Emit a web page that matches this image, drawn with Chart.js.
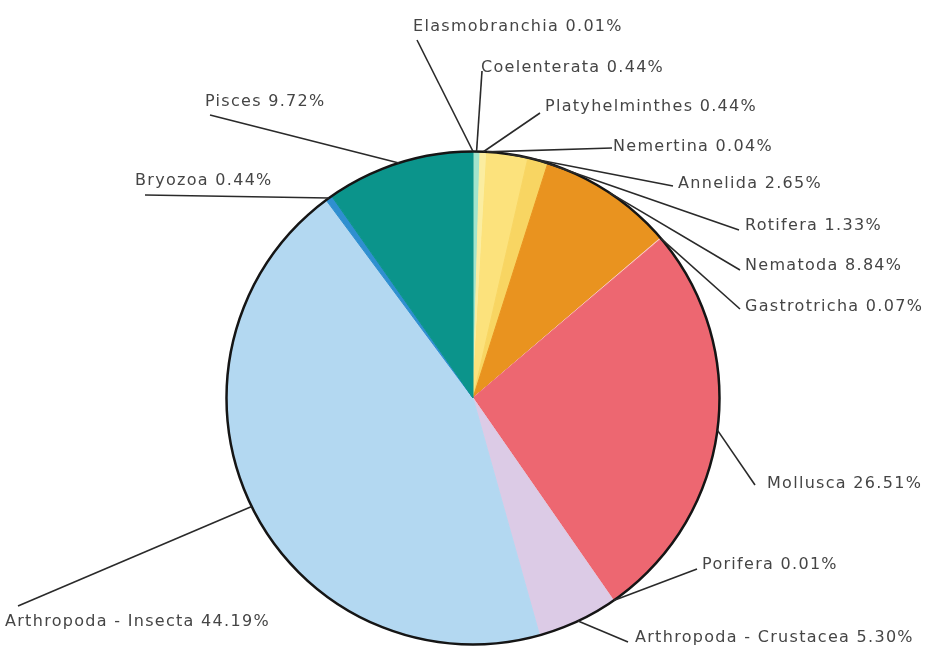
<!DOCTYPE html>
<html lang="en">
<head>
  <meta charset="UTF-8" />
  <title>Species share by group</title>
  <script src="https://cdn.jsdelivr.net/npm/chart.js"></script>
  <style>
    html, body { margin: 0; padding: 0; background: #fff; }
    canvas { display: block; }
  </style>
</head>
<body>
  <canvas id="pieChart" width="944" height="655"></canvas>

  <script>
    // groups, clockwise from 12 o'clock
    const groups = [
      "Elasmobranchia", "Coelenterata", "Platyhelminthes", "Nemertina",
      "Annelida", "Rotifera", "Nematoda", "Gastrotricha", "Mollusca",
      "Porifera", "Arthropoda - Crustacea", "Arthropoda - Insecta",
      "Bryozoa", "Pisces"
    ];
    const percents = [0.01, 0.44, 0.44, 0.04, 2.65, 1.33, 8.84, 0.07, 26.51, 0.01, 5.30, 44.19, 0.44, 9.72];
    const sliceColors = [
      "#5cc9b5", "#a3e4cc", "#fbeda0", "#fbe27a", "#fce27c", "#f8d562", "#e9931f",
      "#f9c9c4", "#ed6771", "#f59a9a", "#dccbe6", "#b3d8f1", "#2f8fd0", "#0b948b"
    ];

    // where each callout text sits and where its leader line ends: [textX, textY, lineX, lineY]
    const callouts = [
      [413, 27, 417, 40],
      [481, 68, 482, 71],
      [545, 107, 540, 113],
      [613, 147, 612, 148],
      [678, 184, 673, 186],
      [745, 226, 739, 230],
      [745, 266, 740, 270],
      [745, 307, 740, 309],
      [767, 484, 755, 485],
      [702, 565, 697, 569],
      [635, 638, 628, 642],
      [5, 622, 18, 606],
      [135, 181, 145, 195],
      [205, 102, 210, 115]
    ];

    const outlinePlugin = {
      id: 'outline',
      afterDatasetsDraw(chart) {
        const arc = chart.getDatasetMeta(0).data[0];
        const ctx = chart.ctx;
        ctx.save();
        ctx.beginPath();
        ctx.arc(arc.x, arc.y, arc.outerRadius, 0, Math.PI * 2);
        ctx.lineWidth = 2.5;
        ctx.strokeStyle = '#151515';
        ctx.stroke();
        ctx.restore();
      }
    };

    const calloutPlugin = {
      id: 'callouts',
      afterDraw(chart) {
        const ctx = chart.ctx;
        const arcs = chart.getDatasetMeta(0).data;
        ctx.save();
        ctx.font = '16px "DejaVu Sans"';
        ctx.letterSpacing = '1.3px';
        ctx.textBaseline = 'middle';
        ctx.fillStyle = '#454545';
        ctx.strokeStyle = '#2a2a2a';
        ctx.lineWidth = 1.6;
        arcs.forEach((arc, i) => {
          const mid = (arc.startAngle + arc.endAngle) / 2;
          const sx = arc.x + Math.cos(mid) * arc.outerRadius;
          const sy = arc.y + Math.sin(mid) * arc.outerRadius;
          const [tx, ty, lx, ly] = callouts[i];
          ctx.beginPath();
          ctx.moveTo(sx, sy);
          ctx.lineTo(lx, ly);
          ctx.stroke();
          ctx.fillText(groups[i] + ' ' + percents[i].toFixed(2) + '%', tx, ty);
        });
        ctx.restore();
      }
    };

    new Chart(document.getElementById('pieChart').getContext('2d'), {
      type: 'pie',
      data: {
        labels: groups,
        datasets: [{
          data: percents,
          backgroundColor: sliceColors,
          borderColor: sliceColors,
          borderWidth: 1
        }]
      },
      options: {
        responsive: false,
        animation: false,
        layout: { padding: { top: 151, bottom: 10, left: 226, right: 224 } },
        plugins: {
          legend: { display: false },
          tooltip: { enabled: false }
        }
      },
      plugins: [outlinePlugin, calloutPlugin]
    });
  </script>
</body>
</html>
